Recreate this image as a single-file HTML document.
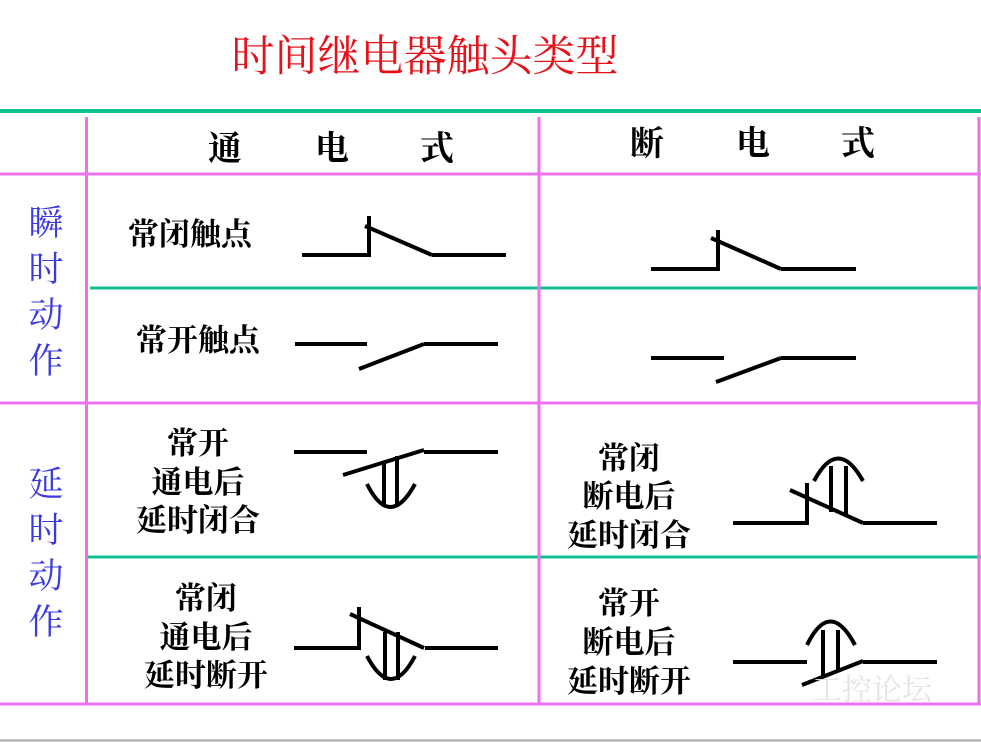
<!DOCTYPE html>
<html><head><meta charset="utf-8"><style>
html,body{margin:0;padding:0;background:#fff;}
svg{display:block;}
text{font-family:"Liberation Serif","Noto Serif CJK SC","Noto Sans CJK SC",serif;}
</style></head><body>
<svg width="981" height="742" viewBox="0 0 981 742" xmlns="http://www.w3.org/2000/svg">
<rect width="981" height="742" fill="#fff"/>
<line x1="0" y1="740.5" x2="981" y2="740.5" stroke="#aaa" stroke-width="2"/>
<text x="425" y="71" font-size="43" fill="#e8101a" text-anchor="middle">时间继电器触头类型</text>
<g stroke-linecap="butt">
<line x1="0" y1="111" x2="981" y2="111" stroke="#10c090" stroke-width="4"/>
<line x1="0" y1="174" x2="981" y2="174" stroke="#ee70ee" stroke-width="3"/>
<line x1="0" y1="403" x2="981" y2="403" stroke="#ee70ee" stroke-width="3"/>
<line x1="0" y1="704" x2="981" y2="704" stroke="#ee70ee" stroke-width="3"/>
<line x1="90" y1="288" x2="981" y2="288" stroke="#10c090" stroke-width="3"/>
<line x1="88" y1="557" x2="981" y2="557" stroke="#10c090" stroke-width="3"/>
<line x1="86.5" y1="117" x2="86.5" y2="704" stroke="#ee70ee" stroke-width="3"/>
<line x1="539" y1="117" x2="539" y2="704" stroke="#ee70ee" stroke-width="3"/>
<line x1="979" y1="117" x2="979" y2="704" stroke="#ee70ee" stroke-width="3"/>
</g>
<g font-weight="bold">
<text y="160" font-size="34" fill="#000"><tspan x="208">通</tspan><tspan x="315">电</tspan><tspan x="420">式</tspan></text>
<text y="155" font-size="34" fill="#000"><tspan x="630">断</tspan><tspan x="736">电</tspan><tspan x="841">式</tspan></text>
</g>
<g font-size="35" fill="#3a3ae0" text-anchor="middle">
<text x="46" y="235">瞬</text><text x="46" y="281">时</text><text x="46" y="327">动</text><text x="46" y="373">作</text>
<text x="46" y="496">延</text><text x="46" y="542">时</text><text x="46" y="588">动</text><text x="46" y="634">作</text>
</g>
<g font-size="31" fill="#000" text-anchor="middle" font-weight="bold">
<text x="190" y="245">常闭触点</text>
<text x="198" y="351">常开触点</text>
<text x="198" y="454">常开</text><text x="198" y="493">通电后</text><text x="198" y="531">延时闭合</text>
<text x="206" y="609">常闭</text><text x="206" y="648">通电后</text><text x="206" y="686">延时断开</text>
<text x="629" y="469">常闭</text><text x="629" y="507">断电后</text><text x="629" y="546">延时闭合</text>
<text x="629" y="614">常开</text><text x="629" y="653">断电后</text><text x="629" y="692">延时断开</text>
</g>
<g stroke="#000" stroke-width="4" fill="none">
<path d="M302 255H369V216M365 226L432 255M432 255H506"/>
<path d="M651 269H718V230M711 238L781 269M781 269H856"/>
<path d="M295 344H367M359 369L424 344M424 344H498"/>
<path d="M651 358H724M716 382L781 358M781 358H856"/>
<path d="M294 452H367M343 475L424 450M424 452H498"/>
<path d="M384 461V507M397 456V507M367 484Q390 530 415 484"/>
<path d="M294 648H359V607M350 614L424 648M425 648H498"/>
<path d="M385 632V680M398 632V680M367 656Q391 702 415 656"/>
<path d="M733 523H807V483M790 490L863 523M863 523H937"/>
<path d="M831 466V512M846 466V517M814 481Q838 436 863 481"/>
<path d="M733 662H807M802 685L863 661M863 662H937"/>
<path d="M823 630V677M838 630V672M807 645Q830 598 855 645"/>
</g>
<text x="812" y="700" font-size="30" fill="#e4e4e4" font-family="Liberation Sans,Noto Sans CJK SC,sans-serif">工控论坛</text>
</svg>
</body></html>
